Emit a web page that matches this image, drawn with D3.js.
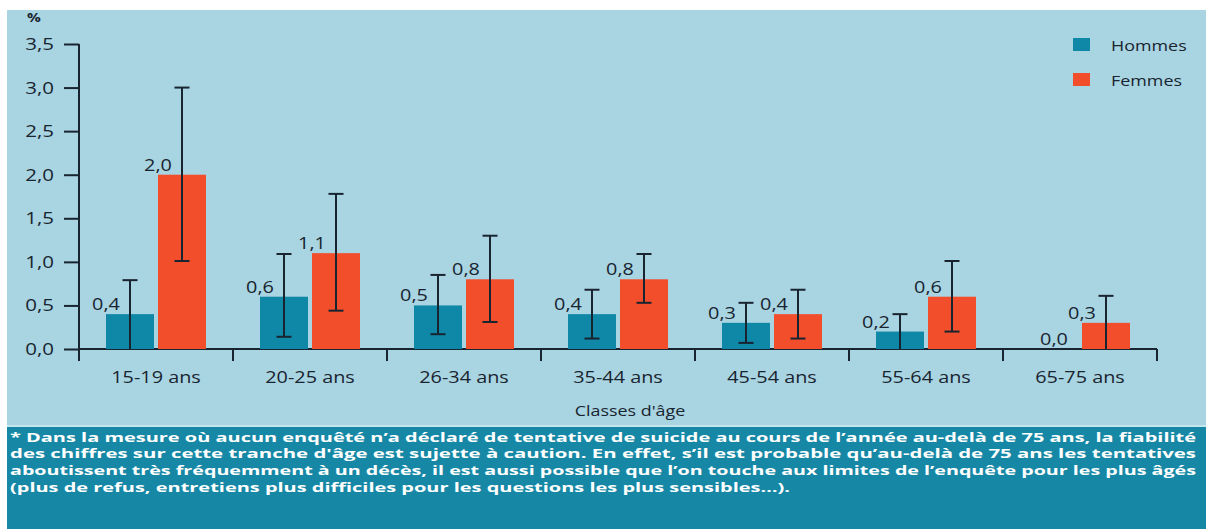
<!DOCTYPE html>
<html><head><meta charset="utf-8">
<script src="https://cdn.jsdelivr.net/npm/d3@7"></script>
<style>
html,body{margin:0;padding:0;background:#fff;}
text{font-family:"Open Sans",sans-serif;}
</style></head>
<body>
<svg id="chart" width="1206" height="529"></svg>
<script>
// ---- data ----
const categories = ["15-19 ans","20-25 ans","26-34 ans","35-44 ans","45-54 ans","55-64 ans","65-75 ans"];
const seriesNames = ["Hommes","Femmes"];
const hommes = [0.4,0.6,0.5,0.4,0.3,0.2,0.0];
const femmes = [2.0,1.1,0.8,0.8,0.4,0.6,0.3];
const hommesLow  = [0.0,0.14,0.17,0.12,0.07,0.0,null];
const hommesHigh = [0.79,1.09,0.85,0.68,0.53,0.40,null];
const femmesLow  = [1.01,0.44,0.31,0.53,0.12,0.20,0.0];
const femmesHigh = [3.0,1.78,1.30,1.09,0.68,1.01,0.61];
const yTicks = [0,0.5,1,1.5,2,2.5,3,3.5];
const yUnit = "%";
const xTitle = "Classes d'âge";
const footnote = [
 "* Dans la mesure où aucun enquêté n’a déclaré de tentative de suicide au cours de l’année au-delà de 75 ans, la fiabilité",
 "des chiffres sur cette tranche d'âge est sujette à caution. En effet, s’il est probable qu’au-delà de 75 ans les tentatives",
 "aboutissent très fréquemment à un décès, il est aussi possible que l’on touche aux limites de l’enquête pour les plus âgés",
 "(plus de refus, entretiens plus difficiles pour les questions les plus sensibles…)."
];

// ---- style ----
const colors = {Hommes:"#0f87a6", Femmes:"#f34e2c"};
const ink = "#182430";
const SX = 1.28; // horizontal stretch of the source typography

const svg = d3.select("#chart");
svg.append("rect").attr("x",7).attr("y",10).attr("width",1199).attr("height",416).attr("fill","#a9d4e1");
svg.append("rect").attr("x",7).attr("y",426).attr("width",1199).attr("height",103).attr("fill","#1688a6");
svg.append("rect").attr("x",7).attr("y",425).attr("width",1199).attr("height",2).attr("fill","#c6e6ee");

const x = d3.scaleBand().domain(categories).range([79,1157]).paddingInner(0).paddingOuter(0);
const x1 = d3.scaleBand().domain(seriesNames).range([27,127]).paddingInner(0.077);
const y = d3.scaleLinear().domain([0,3.5]).range([349,44]);
const fmt = v => d3.format(".1f")(v).replace(".",",");

function stext(g, tx, ty, str, size, anchor, weight){
  return g.append("text")
    .attr("transform",`translate(${tx},${ty}) scale(${SX},1)`)
    .attr("text-anchor",anchor||"start")
    .attr("font-size",size)
    .attr("font-weight",weight||400)
    .attr("fill",ink)
    .text(str);
}

// y axis
const yAxis = svg.append("g").attr("transform","translate(79,0)")
  .call(d3.axisLeft(y).tickValues(yTicks).tickSize(15).tickFormat(""));
yAxis.select(".domain").remove();
yAxis.selectAll("line").attr("stroke",ink).attr("stroke-width",2);
yTicks.forEach(t => stext(svg, 54, y(t)+6, fmt(t), 16, "end"));
svg.append("line").attr("x1",79).attr("x2",79).attr("y1",y(3.5)).attr("y2",361)
  .attr("stroke",ink).attr("stroke-width",2);
stext(svg, 27, 22, yUnit, 12, "start", 700);

// x axis
svg.append("line").attr("x1",x.range()[0]).attr("x2",x.range()[1]).attr("y1",y(0)).attr("y2",y(0))
  .attr("stroke",ink).attr("stroke-width",2);
const bounds = categories.map(c => x(c)).concat([x.range()[1]]);
svg.selectAll(".xtick").data(bounds).enter().append("line")
  .attr("x1",d=>d).attr("x2",d=>d).attr("y1",y(0)).attr("y2",361)
  .attr("stroke",ink).attr("stroke-width",2);
categories.forEach(c => stext(svg, x(c)+x.bandwidth()/2, 383, c, 15.5, "middle"));
stext(svg, 630, 416, xTitle, 14, "middle");

// bars
const rows = categories.map((c,i)=>({c, vals:[
  {s:"Hommes", v:hommes[i], lo:hommesLow[i], hi:hommesHigh[i]},
  {s:"Femmes", v:femmes[i], lo:femmesLow[i], hi:femmesHigh[i]}]}));
const gCat = svg.selectAll(".cat").data(rows).enter().append("g")
  .attr("transform",d=>`translate(${x(d.c)},0)`);
gCat.selectAll("rect").data(d=>d.vals).enter().append("rect")
  .attr("x",d=>x1(d.s)).attr("width",x1.bandwidth())
  .attr("y",d=>y(d.v)).attr("height",d=>y(0)-y(d.v))
  .attr("fill",d=>colors[d.s]);

// error bars
gCat.each(function(row){
  const g = d3.select(this);
  row.vals.forEach(d=>{
    if(d.lo==null) return;
    const cx = x1(d.s)+x1.bandwidth()/2;
    g.append("line").attr("x1",cx).attr("x2",cx).attr("y1",y(d.lo)).attr("y2",y(d.hi))
      .attr("stroke",ink).attr("stroke-width",2);
    [d.lo,d.hi].forEach(v=>{
      if(v===0) return;
      g.append("line").attr("x1",cx-7.5).attr("x2",cx+7.5).attr("y1",y(v)).attr("y2",y(v))
        .attr("stroke",ink).attr("stroke-width",2);
    });
  });
  row.vals.forEach(d=>{
    const lx = d.v===0 ? x1(d.s)+x1.bandwidth()/2 : x1(d.s);
    stext(g, lx, y(d.v)-4, fmt(d.v), 15.5, "middle");
  });
});

// legend
seriesNames.forEach((s,i)=>{
  svg.append("rect").attr("x",1073).attr("y",38+i*35).attr("width",17).attr("height",13).attr("fill",colors[s]);
  stext(svg, 1111, 51+i*35, s, 14, "start");
});

// footnote: justified lines
const FS = 12, FW = 700;
const fb = [441.5,458.2,474.9,491.6];
const probe = svg.append("text").attr("font-size",FS).attr("font-weight",FW).text(footnote[0]);
const stretch = 1186/probe.node().getComputedTextLength();
probe.remove();
footnote.forEach((line,i)=>{
  const t = svg.append("text").attr("fill","#fff").attr("font-size",FS).attr("font-weight",FW)
    .attr("x",10).attr("y",fb[i]).text(line);
  let w = 1186;
  if(i===3) w = t.node().getComputedTextLength()*stretch;
  t.attr("textLength",w).attr("lengthAdjust","spacingAndGlyphs");
});
</script>
</body></html>
